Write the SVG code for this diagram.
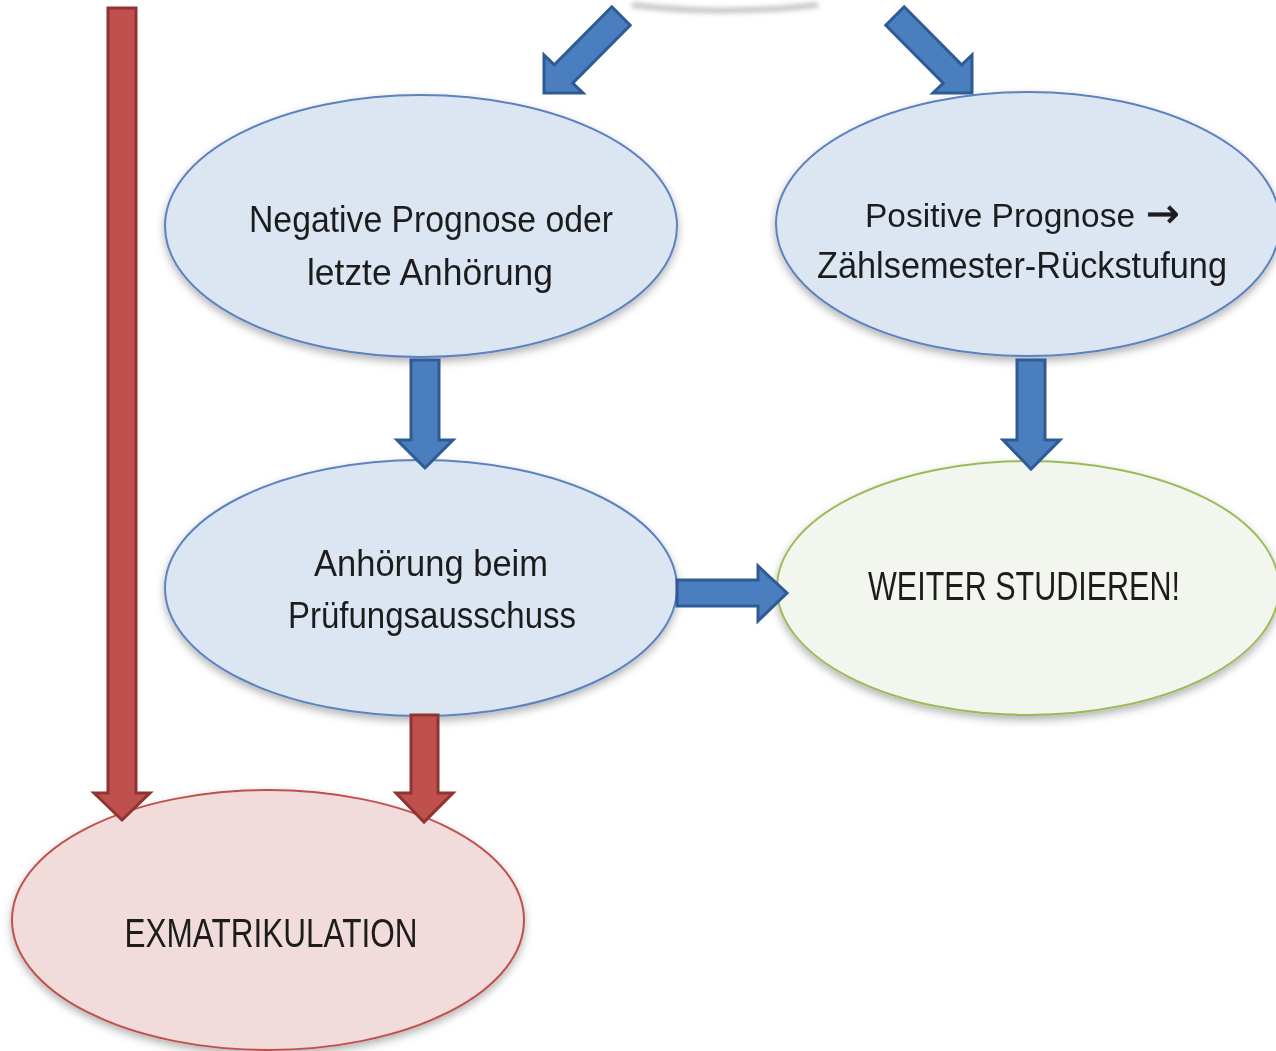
<svg xmlns="http://www.w3.org/2000/svg" width="1276" height="1051" viewBox="0 0 1276 1051">
<style>
.t{font-family:"Liberation Sans",Arial,sans-serif;font-size:36px;fill:#1e1e1e;text-anchor:middle}
.c{font-size:40px}
.nb{fill:#dce6f2;stroke:#5b82c0;stroke-width:2}
.ng{fill:#f3f6ee;stroke:#9bbb59;stroke-width:2}
.nr{fill:#f2dcdb;stroke:#c0504d;stroke-width:2}
.ab{fill:#4a7ebf;stroke:#2e5b94;stroke-width:3;stroke-linejoin:miter}
.ar{fill:#c0504d;stroke:#8e3532;stroke-width:3;stroke-linejoin:miter}
</style>
<defs>
<filter id="sh" x="-10%" y="-10%" width="120%" height="130%">
<feDropShadow dx="0" dy="4" stdDeviation="4" flood-color="#000" flood-opacity="0.3"/>
</filter>
<filter id="blur" x="-20%" y="-200%" width="140%" height="500%">
<feGaussianBlur stdDeviation="2.5"/>
</filter>
</defs>
<rect width="1276" height="1051" fill="#fff"/>
<path d="M632,5 Q725,16 818,5" fill="none" stroke="#bdbdbd" stroke-width="5" filter="url(#blur)"/>
<g id="n-negative" filter="url(#sh)">
<ellipse class="nb" cx="421" cy="226" rx="256" ry="131"/>
<text class="t" x="431" y="232" textLength="364" lengthAdjust="spacingAndGlyphs">Negative Prognose oder</text>
<text class="t" x="430" y="285" textLength="246" lengthAdjust="spacingAndGlyphs">letzte Anhörung</text>
</g>
<g id="n-positive" filter="url(#sh)">
<ellipse class="nb" cx="1028" cy="224" rx="252" ry="132"/>
<text class="t" x="865" y="227" style="text-anchor:start;font-size:33.5px">Positive Prognose <tspan dx="2" style="font-family:'DejaVu Sans',sans-serif;font-size:40px;stroke:#1e1e1e;stroke-width:0.8">→</tspan></text>
<text class="t" x="1022" y="278" textLength="410" lengthAdjust="spacingAndGlyphs">Zählsemester-Rückstufung</text>
</g>
<g id="n-anhoerung" filter="url(#sh)">
<ellipse class="nb" cx="421" cy="588" rx="256" ry="128"/>
<text class="t" x="431" y="576" textLength="234" lengthAdjust="spacingAndGlyphs">Anhörung beim</text>
<text class="t" x="432" y="628" textLength="288" lengthAdjust="spacingAndGlyphs">Prüfungsausschuss</text>
</g>
<g id="n-weiter" filter="url(#sh)">
<ellipse class="ng" cx="1028" cy="588" rx="251" ry="127"/>
<text class="t c" x="1024" y="600" textLength="312" lengthAdjust="spacingAndGlyphs">WEITER STUDIEREN!</text>
</g>
<g id="n-exmat" filter="url(#sh)">
<ellipse class="nr" cx="268" cy="920" rx="256" ry="130"/>
<text class="t c" x="271" y="947" textLength="293" lengthAdjust="spacingAndGlyphs">EXMATRIKULATION</text>
</g>
<g id="connectors">
<polygon class="ab" points="611.8,6.8 630.2,25.2 572.7,83.2 583,93 544,93 544,55 554.3,64.8"/>
<polygon class="ab" points="904.2,6.8 885.8,25.2 943.3,83.2 933,93 972,93 972,55 961.7,64.8"/>
<polygon class="ab" points="411,360 439,360 439,440 453,440 425,468 397,440 411,440"/>
<polygon class="ab" points="1017,360 1045,360 1045,440 1060,440 1031,469 1003,440 1017,440"/>
<polygon class="ab" points="677,580 758,580 758,566 787,593 758,621 758,606 677,606"/>
<polygon class="ar" points="108,8 136,8 136,793 150,793 122,820 94,793 108,793"/>
<polygon class="ar" points="411,715 438,715 438,793 453,793 424,822 396,793 411,793"/>
</g>
</svg>
